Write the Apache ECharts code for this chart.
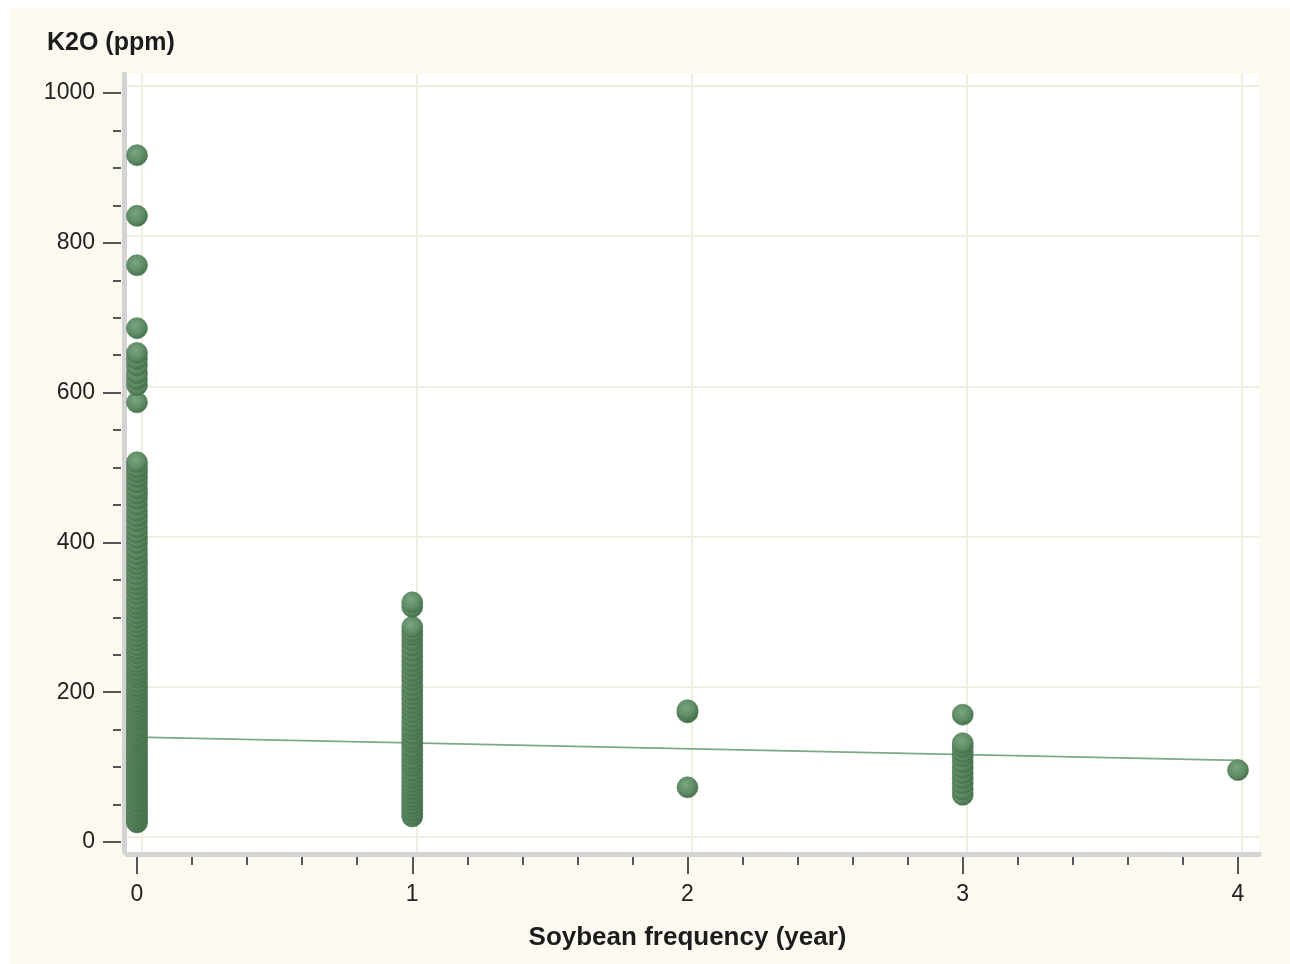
<!DOCTYPE html>
<html>
<head>
<meta charset="utf-8">
<title>K2O vs Soybean frequency</title>
<script src="https://cdn.jsdelivr.net/npm/echarts@6/dist/echarts.min.js"></script>
<style>
  html, body { margin: 0; padding: 0; background: #ffffff; }
  #chart { width: 1290px; height: 964px; }
</style>
</head>
<body>
<div id="chart"></div>
<script>
// K2O (ppm) readings grouped by soybean frequency (years)
const k2o_0yr = [
  26, 28, 31, 35, 38, 41, 45, 48, 52, 55, 59, 63, 66, 70, 74, 77, 81, 84, 88, 92,
  95, 99, 103, 107, 110, 114, 118, 122, 126, 131, 135, 139, 143, 148, 152, 156,
  161, 165, 170, 174, 179, 184, 188, 193, 198, 203, 208, 213, 219, 224, 229, 235,
  240, 246, 252, 257, 263, 269, 275, 281, 287, 293, 299, 305, 312, 318, 324, 331,
  337, 344, 350, 357, 364, 371, 377, 384, 391, 399, 406, 413, 420, 428, 435, 442,
  450, 458, 465, 472, 480, 487, 494, 500, 507,
  587, 610, 618, 626, 636, 645, 653, 686, 770, 836, 917
];
const k2o_1yr = [
  34, 38, 42, 47, 51, 56, 60, 65, 70, 75, 80, 85, 90, 95, 101, 106, 111, 117, 122,
  127, 133, 138, 144, 150, 155, 161, 167, 173, 179, 185, 191, 197, 203, 209, 216,
  222, 228, 235, 241, 248, 255, 262, 269, 276, 281, 287, 314, 320
];
const k2o_2yr = [73, 173, 176];
const k2o_3yr = [63, 70, 78, 85, 92, 99, 106, 114, 120, 127, 132, 170];
const k2o_4yr = [96];

// fitted trend line end points (frequency, K2O)
const fitX = [0, 4];
const fitY = [140, 109];

const groups = [
  [0, k2o_0yr], [1, k2o_1yr], [2, k2o_2yr], [3, k2o_3yr], [4, k2o_4yr]
];
const points = [];
groups.forEach(([freq, vals]) => vals.forEach(v => points.push([freq, v])));
const fitData = fitX.map((x, i) => [x, fitY[i]]);

const FONT = '"Liberation Sans", Arial, sans-serif';
const tickStyle = { color: '#555555', width: 2 };
const barStyle = { color: '#d3d3d3', width: 5 };
const gridLineStyle = { color: '#f0ede1', width: 2 };
const plainNumber = v => String(v);

const chart = echarts.init(document.getElementById('chart'), null, { renderer: 'canvas' });

chart.setOption({
  backgroundColor: '#ffffff',
  animation: false,
  graphic: [{
    type: 'rect', z: -10, silent: true,
    shape: { x: 10, y: 8, width: 1280, height: 956 },
    style: { fill: '#fcf9f1' }
  }],
  title: {
    text: 'K2O (ppm)',
    left: 47, top: 31, padding: 0,
    textStyle: { fontFamily: FONT, fontSize: 25, fontWeight: 'bold', color: '#1c1c1c' }
  },
  grid: [
    // back plane: white panel, gray frame bars and grid lines
    { left: 127, top: 74, width: 1132, height: 778, show: true, backgroundColor: '#ffffff', borderWidth: 0 },
    // front plane: ticks, labels and data
    { left: 137, top: 93, width: 1101, height: 749 }
  ],
  xAxis: [
    {
      gridIndex: 0, type: 'value', min: -0.0535, max: 4.063, offset: 2.5,
      axisLine: { show: true, onZero: false, lineStyle: barStyle },
      axisTick: { show: false }, axisLabel: { show: false },
      splitLine: { show: true, showMinLine: false, showMaxLine: false, lineStyle: gridLineStyle }
    },
    {
      gridIndex: 1, type: 'value', min: 0, max: 4, interval: 1, offset: 15,
      axisLine: { show: false, onZero: false },
      axisTick: { show: true, length: 17, lineStyle: tickStyle },
      minorTick: { show: true, splitNumber: 5, length: 8, lineStyle: tickStyle },
      axisLabel: { margin: 26, fontSize: 23, fontFamily: FONT, color: '#222222', formatter: plainNumber },
      splitLine: { show: false },
      name: 'Soybean frequency (year)', nameLocation: 'middle', nameGap: 68,
      nameTextStyle: { fontFamily: FONT, fontSize: 26, fontWeight: 'bold', color: '#1c1c1c' }
    }
  ],
  yAxis: [
    {
      gridIndex: 0, type: 'value', min: -19.97, max: 1016, offset: 2.5,
      axisLine: { show: true, onZero: false, lineStyle: barStyle },
      axisTick: { show: false }, axisLabel: { show: false },
      splitLine: { show: true, showMinLine: false, showMaxLine: false, lineStyle: gridLineStyle }
    },
    {
      gridIndex: 1, type: 'value', min: 0, max: 1000, interval: 200, offset: 16,
      axisLine: { show: false, onZero: false },
      axisTick: { show: true, length: 18, lineStyle: tickStyle },
      minorTick: { show: true, splitNumber: 4, length: 8, lineStyle: tickStyle },
      axisLabel: { margin: 26, fontSize: 23, fontFamily: FONT, color: '#222222', formatter: plainNumber },
      splitLine: { show: false }
    }
  ],
  series: [
    {
      type: 'line', xAxisIndex: 1, yAxisIndex: 1, data: fitData,
      symbol: 'none', z: 2, clip: false,
      lineStyle: { color: '#7caa85', width: 1.8 }
    },
    {
      type: 'scatter', xAxisIndex: 1, yAxisIndex: 1, data: points,
      symbol: 'circle', symbolSize: 21, z: 3, clip: false,
      itemStyle: {
        color: {
          type: 'radial', x: 0.42, y: 0.38, r: 0.62,
          colorStops: [
            { offset: 0, color: '#79a581' },
            { offset: 0.65, color: '#5e8c65' },
            { offset: 1, color: '#456f4c' }
          ]
        },
        borderWidth: 0.6, borderColor: '#4a7651', opacity: 1
      }
    }
  ]
});
</script>
</body>
</html>
